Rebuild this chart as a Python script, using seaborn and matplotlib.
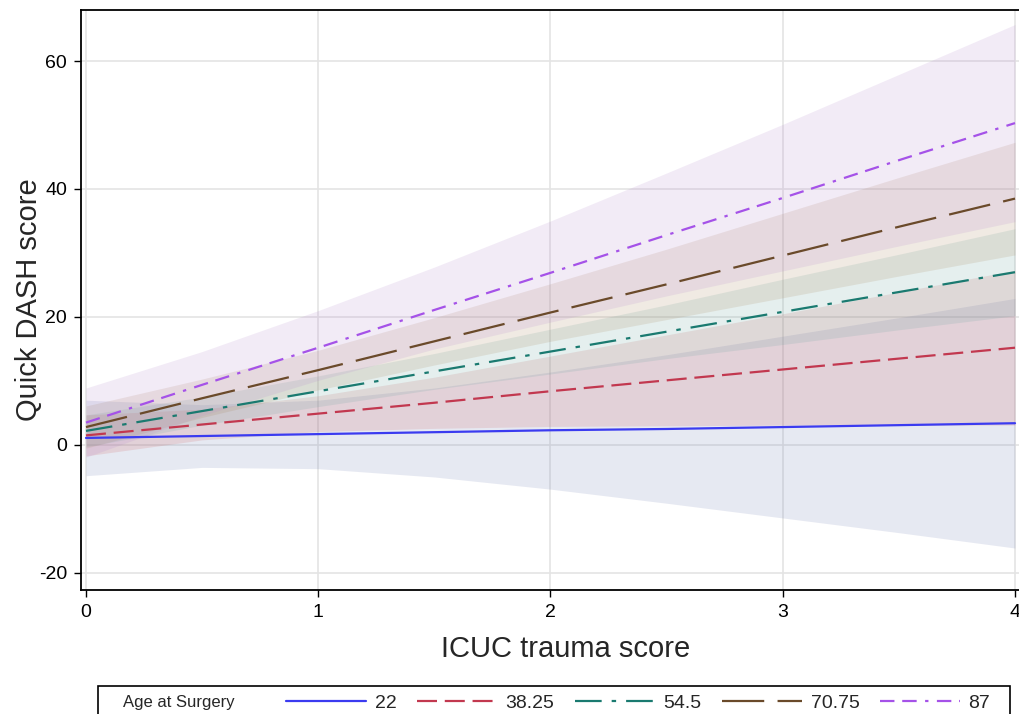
import matplotlib
matplotlib.use("Agg")
import matplotlib.pyplot as plt
import pandas as pd
import seaborn as sns
from matplotlib.patches import Rectangle

# ICUC trauma score grid and predicted Quick DASH by age at surgery
icuc = [0, 0.5, 1, 1.5, 2, 2.5, 3, 3.5, 4]
ages = ['22', '38.25', '54.5', '70.75', '87']

pred_22 = [1.1, 1.4, 1.7, 2.0, 2.3, 2.5, 2.8, 3.1, 3.4]
lo_22 = [-4.8, -3.5, -3.7, -5.0, -6.9, -9.1, -11.4, -13.7, -16.1]
hi_22 = [7.0, 6.3, 7.0, 8.9, 11.4, 14.1, 17.0, 19.9, 22.9]

pred_38 = [1.5, 3.2, 4.9, 6.6, 8.4, 10.1, 11.8, 13.5, 15.2]
lo_38 = [-1.7, 0.8, 2.1, 2.6, 2.9, 3.0, 3.1, 3.1, 3.1]
hi_38 = [4.7, 5.6, 7.7, 10.6, 13.9, 17.2, 20.5, 23.9, 27.3]

pred_54 = [2.2, 5.3, 8.4, 11.5, 14.6, 17.7, 20.8, 23.9, 27.0]
lo_54 = [-0.3, 3.1, 6.0, 8.7, 11.1, 13.5, 15.7, 18.0, 20.2]
hi_54 = [4.7, 7.5, 10.8, 14.3, 18.1, 21.9, 25.9, 29.8, 33.8]

pred_70 = [2.8, 7.3, 11.7, 16.2, 20.7, 25.1, 29.6, 34.1, 38.5]
lo_70 = [-0.5, 4.3, 8.6, 12.5, 16.2, 19.6, 23.0, 26.4, 29.7]
hi_70 = [6.1, 10.3, 14.8, 19.9, 25.2, 30.6, 36.2, 41.8, 47.3]

pred_87 = [3.5, 9.4, 15.2, 21.1, 26.9, 32.8, 38.6, 44.5, 50.3]
lo_87 = [-1.9, 4.6, 10.1, 15.0, 19.2, 23.3, 27.2, 31.1, 34.9]
hi_87 = [8.9, 14.6, 21.0, 27.8, 35.0, 42.5, 50.1, 57.9, 65.7]

preds = [pred_22, pred_38, pred_54, pred_70, pred_87]
lows = [lo_22, lo_38, lo_54, lo_70, lo_87]
highs = [hi_22, hi_38, hi_54, hi_70, hi_87]

line_colors = ['#3b3bf0', '#c2384f', '#1a7a70', '#6a4a2a', '#a552e8']
fill_colors = ['#6f7eb3', '#d05b5b', '#66a5a0', '#a9865b', '#b689cd']
dashes = {'22': '',
          '38.25': (9, 3.5),
          '54.5': (12, 4.5, 2, 4.5),
          '70.75': (19, 6),
          '87': (6.5, 3.5, 6.5, 3.8, 1.5, 3.8)}


def run():
    sns.set_theme(style='white')
    plt.rcParams['font.family'] = ['Liberation Sans', 'DejaVu Sans']
    plt.rcParams['axes.unicode_minus'] = False

    rows = []
    for age, pred in zip(ages, preds):
        for x, y in zip(icuc, pred):
            rows.append({'icuc': x, 'qdash': y, 'age': age})
    df = pd.DataFrame(rows)

    fig = plt.figure(figsize=(10.19, 7.14), dpi=100)
    ax = fig.add_axes([81 / 1019, 1 - 590 / 714, 949 / 1019, 580 / 714])

    for lo, hi, c in zip(lows, highs, fill_colors):
        ax.fill_between(icuc, lo, hi, color=c, alpha=0.17, lw=0, zorder=1)

    sns.lineplot(ax=ax, data=df, x='icuc', y='qdash', hue='age', style='age',
                 hue_order=ages, style_order=ages,
                 palette=dict(zip(ages, line_colors)), dashes=dashes,
                 lw=1.6, legend=False, zorder=3)

    ax.set_xlim(-0.0215, 4.0646)
    ax.set_ylim(-22.66, 67.97)
    ax.set_xticks([0, 1, 2, 3, 4])
    ax.set_yticks([-20, 0, 20, 40, 60])
    ax.grid(True, color='#e4e4e4', lw=1.2)
    ax.set_axisbelow(True)
    ax.tick_params(bottom=True, left=True, direction='out', length=5,
                   width=1, colors='black', labelsize=14, pad=5)
    for sp in ax.spines.values():
        sp.set_color('black')
        sp.set_linewidth(1.3)

    ax.set_xlabel('ICUC trauma score', fontsize=21)
    ax.set_ylabel('Quick DASH score', fontsize=21)
    ax.xaxis.set_label_coords(0.511, -0.078)
    ax.yaxis.set_label_coords(-0.040, 0.5)

    # legend at the bottom, boxed, partly cut off like the source
    handles = ax.lines[:len(ages)]
    fig.legend(handles, ages, ncol=5, loc='center left',
               bbox_to_anchor=(286 / 1019, 1 - 703 / 714),
               bbox_transform=fig.transFigure, frameon=False,
               fontsize=14, handlelength=4.1, handletextpad=0.46,
               columnspacing=1.05, borderpad=0, borderaxespad=0)
    fig.text(123 / 1019, 1 - 702 / 714, 'Age at Surgery', fontsize=12,
             va='center', ha='left')
    fig.add_artist(Rectangle((98 / 1019, -0.05), 912 / 1019,
                             0.05 + 28 / 714, transform=fig.transFigure,
                             fill=False, edgecolor='black', lw=1.2))

    fig.savefig('out.png', dpi=100)


if __name__ == "__main__":
    run()
